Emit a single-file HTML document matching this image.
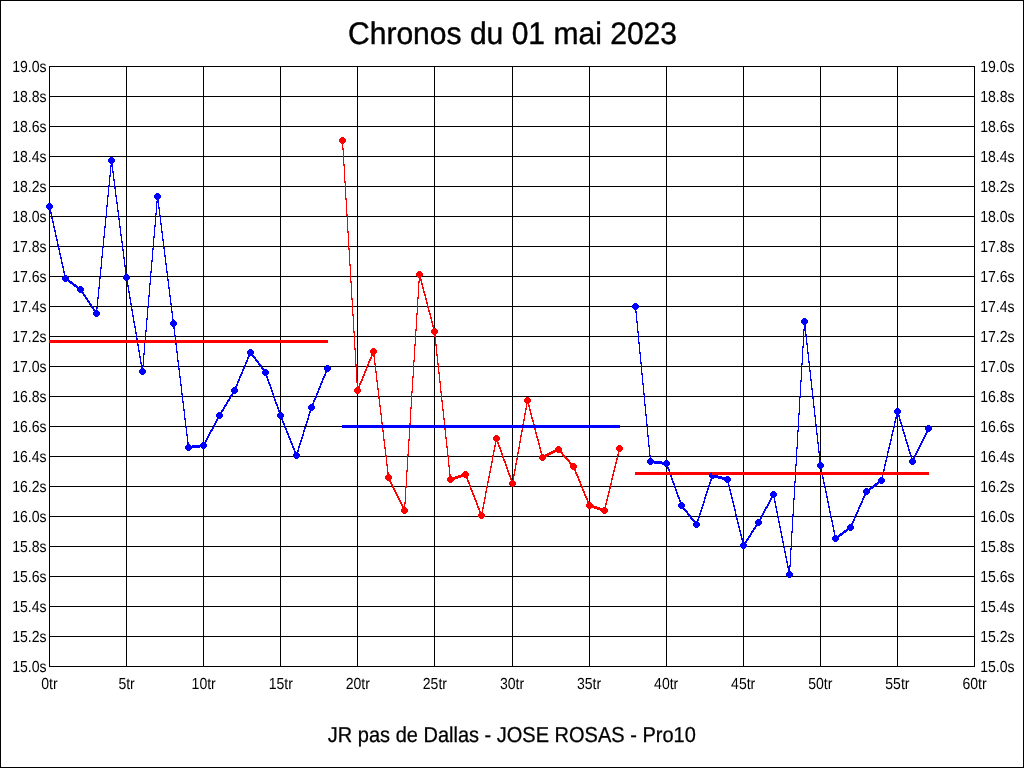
<!DOCTYPE html>
<html lang="fr"><head><meta charset="utf-8"><title>Chronos du 01 mai 2023</title>
<style>
html,body{margin:0;padding:0;background:#fff;width:1024px;height:768px;overflow:hidden}
svg{display:block;position:absolute;left:0;top:0}
text{font-family:"Liberation Sans",Arial,Helvetica,sans-serif;fill:#000;text-rendering:geometricPrecision}
</style></head><body>
<svg width="1024" height="768" viewBox="0 0 1024 768">
<rect width="1024" height="768" fill="#fff"/>
<g shape-rendering="crispEdges">
<path fill="#000" d="M0 0h1024v1h-1024zM49 66h926v1h-926zM49 67h1v29h-1zM126 67h1v29h-1zM203 67h1v29h-1zM280 67h1v29h-1zM357 67h1v29h-1zM434 67h1v29h-1zM512 67h1v29h-1zM589 67h1v29h-1zM666 67h1v29h-1zM743 67h1v29h-1zM820 67h1v29h-1zM897 67h1v29h-1zM974 67h1v29h-1zM49 96h926v1h-926zM49 97h1v29h-1zM126 97h1v29h-1zM203 97h1v29h-1zM280 97h1v29h-1zM357 97h1v29h-1zM434 97h1v29h-1zM512 97h1v29h-1zM589 97h1v29h-1zM666 97h1v29h-1zM743 97h1v29h-1zM820 97h1v29h-1zM897 97h1v29h-1zM974 97h1v29h-1zM49 126h926v1h-926zM49 127h1v29h-1zM126 127h1v29h-1zM203 127h1v29h-1zM280 127h1v29h-1zM357 127h1v29h-1zM434 127h1v29h-1zM512 127h1v29h-1zM589 127h1v29h-1zM666 127h1v29h-1zM743 127h1v29h-1zM820 127h1v29h-1zM897 127h1v29h-1zM974 127h1v29h-1zM49 156h294v1h-294zM344 156h631v1h-631zM49 157h1v29h-1zM126 157h1v29h-1zM203 157h1v29h-1zM280 157h1v29h-1zM357 157h1v29h-1zM434 157h1v29h-1zM512 157h1v29h-1zM589 157h1v29h-1zM666 157h1v29h-1zM743 157h1v29h-1zM820 157h1v29h-1zM897 157h1v29h-1zM974 157h1v29h-1zM49 186h59v1h-59zM110 186h4v1h-4zM115 186h230v1h-230zM346 186h629v1h-629zM49 187h1v16h-1zM49 210h1v6h-1zM126 187h1v29h-1zM203 187h1v29h-1zM280 187h1v29h-1zM357 187h1v29h-1zM434 187h1v29h-1zM512 187h1v29h-1zM589 187h1v29h-1zM666 187h1v29h-1zM743 187h1v29h-1zM820 187h1v29h-1zM897 187h1v29h-1zM974 187h1v29h-1zM49 216h2v1h-2zM52 216h53v1h-53zM107 216h11v1h-11zM119 216h36v1h-36zM156 216h3v1h-3zM161 216h186v1h-186zM348 216h627v1h-627zM49 217h1v29h-1zM126 217h1v29h-1zM203 217h1v29h-1zM280 217h1v29h-1zM357 217h1v29h-1zM434 217h1v29h-1zM512 217h1v29h-1zM589 217h1v29h-1zM666 217h1v29h-1zM743 217h1v29h-1zM820 217h1v29h-1zM897 217h1v29h-1zM974 217h1v29h-1zM49 246h9v1h-9zM59 246h43v1h-43zM104 246h18v1h-18zM123 246h30v1h-30zM154 246h9v1h-9zM164 246h184v1h-184zM349 246h626v1h-626zM126 247h1v26h-1zM49 247h1v29h-1zM203 247h1v29h-1zM280 247h1v29h-1zM357 247h1v29h-1zM434 247h1v29h-1zM512 247h1v29h-1zM589 247h1v29h-1zM666 247h1v29h-1zM743 247h1v29h-1zM820 247h1v29h-1zM897 247h1v29h-1zM974 247h1v29h-1zM49 276h14v1h-14zM68 276h32v1h-32zM101 276h22v1h-22zM130 276h20v1h-20zM151 276h16v1h-16zM168 276h182v1h-182zM351 276h66v1h-66zM422 276h553v1h-553zM49 277h1v29h-1zM126 281h1v25h-1zM203 277h1v29h-1zM280 277h1v29h-1zM357 277h1v29h-1zM434 277h1v29h-1zM512 277h1v29h-1zM589 277h1v29h-1zM666 277h1v29h-1zM743 277h1v29h-1zM820 277h1v29h-1zM897 277h1v29h-1zM974 277h1v29h-1zM49 306h42v1h-42zM93 306h4v1h-4zM98 306h33v1h-33zM132 306h15v1h-15zM149 306h22v1h-22zM172 306h180v1h-180zM353 306h64v1h-64zM418 306h9v1h-9zM429 306h203v1h-203zM639 306h336v1h-336zM434 307h1v21h-1zM49 307h1v29h-1zM126 307h1v29h-1zM203 307h1v29h-1zM280 307h1v29h-1zM357 307h1v29h-1zM512 307h1v29h-1zM589 307h1v29h-1zM666 307h1v29h-1zM743 307h1v29h-1zM820 307h1v29h-1zM897 307h1v29h-1zM974 307h1v29h-1zM49 336h87v1h-87zM137 336h8v1h-8zM146 336h28v1h-28zM176 336h178v1h-178zM355 336h60v1h-60zM416 336h18v1h-18zM436 336h202v1h-202zM639 336h164v1h-164zM804 336h2v1h-2zM807 336h168v1h-168zM49 337h1v3h-1zM126 337h1v3h-1zM203 337h1v3h-1zM280 337h1v3h-1zM49 343h1v23h-1zM126 343h1v23h-1zM203 343h1v23h-1zM280 343h1v23h-1zM357 337h1v29h-1zM434 337h1v29h-1zM512 337h1v29h-1zM589 337h1v29h-1zM666 337h1v29h-1zM743 337h1v29h-1zM820 337h1v29h-1zM897 337h1v29h-1zM974 337h1v29h-1zM49 366h92v1h-92zM144 366h34v1h-34zM179 366h65v1h-65zM246 366h14v1h-14zM262 366h63v1h-63zM330 366h26v1h-26zM357 366h9v1h-9zM368 366h7v1h-7zM376 366h37v1h-37zM414 366h24v1h-24zM439 366h202v1h-202zM642 366h159v1h-159zM802 366h7v1h-7zM810 366h165v1h-165zM357 367h1v14h-1zM49 367h1v29h-1zM126 367h1v29h-1zM203 367h1v29h-1zM280 367h1v29h-1zM357 394h1v2h-1zM434 367h1v29h-1zM512 367h1v29h-1zM589 367h1v29h-1zM666 367h1v29h-1zM743 367h1v29h-1zM820 367h1v29h-1zM897 367h1v29h-1zM974 367h1v29h-1zM49 396h133v1h-133zM183 396h47v1h-47zM232 396h41v1h-41zM275 396h40v1h-40zM317 396h61v1h-61zM379 396h32v1h-32zM412 396h29v1h-29zM442 396h202v1h-202zM645 396h154v1h-154zM801 396h11v1h-11zM813 396h162v1h-162zM897 397h1v11h-1zM280 397h1v15h-1zM357 397h1v28h-1zM434 397h1v28h-1zM512 397h1v28h-1zM589 397h1v28h-1zM49 397h1v29h-1zM126 397h1v29h-1zM203 397h1v29h-1zM280 419h1v7h-1zM666 397h1v29h-1zM743 397h1v29h-1zM820 397h1v29h-1zM897 415h1v11h-1zM974 397h1v29h-1zM49 426h136v1h-136zM187 426h26v1h-26zM215 426h69v1h-69zM286 426h19v1h-19zM306 426h36v1h-36zM620 426h27v1h-27zM648 426h150v1h-150zM799 426h17v1h-17zM817 426h76v1h-76zM895 426h6v1h-6zM903 426h23v1h-23zM931 426h44v1h-44zM203 427h1v15h-1zM49 427h1v29h-1zM126 427h1v29h-1zM203 449h1v7h-1zM280 427h1v29h-1zM357 428h1v28h-1zM434 428h1v28h-1zM512 428h1v28h-1zM589 428h1v28h-1zM666 427h1v29h-1zM743 427h1v29h-1zM820 427h1v29h-1zM897 427h1v29h-1zM974 427h1v29h-1zM49 456h244v1h-244zM300 456h85v1h-85zM387 456h20v1h-20zM408 456h39v1h-39zM449 456h43v1h-43zM494 456h8v1h-8zM504 456h13v1h-13zM518 456h21v1h-21zM547 456h16v1h-16zM566 456h51v1h-51zM618 456h31v1h-31zM651 456h145v1h-145zM797 456h22v1h-22zM820 456h66v1h-66zM888 456h22v1h-22zM912 456h2v1h-2zM916 456h59v1h-59zM666 457h1v3h-1zM820 457h1v3h-1zM666 467h1v5h-1zM743 457h1v15h-1zM820 469h1v3h-1zM897 457h1v15h-1zM512 457h1v23h-1zM49 457h1v29h-1zM126 457h1v29h-1zM203 457h1v29h-1zM280 457h1v29h-1zM357 457h1v29h-1zM434 457h1v29h-1zM589 457h1v29h-1zM666 475h1v11h-1zM743 475h1v11h-1zM820 475h1v11h-1zM897 475h1v11h-1zM974 457h1v29h-1zM49 486h343v1h-343zM394 486h11v1h-11zM407 486h62v1h-62zM471 486h15v1h-15zM488 486h23v1h-23zM514 486h67v1h-67zM583 486h27v1h-27zM611 486h63v1h-63zM676 486h32v1h-32zM710 486h18v1h-18zM730 486h64v1h-64zM795 486h29v1h-29zM826 486h45v1h-45zM875 486h100v1h-100zM589 487h1v15h-1zM49 487h1v29h-1zM126 487h1v29h-1zM203 487h1v29h-1zM280 487h1v29h-1zM357 487h1v29h-1zM434 487h1v29h-1zM512 487h1v29h-1zM589 509h1v7h-1zM666 487h1v29h-1zM743 487h1v29h-1zM820 487h1v29h-1zM897 487h1v29h-1zM974 487h1v29h-1zM49 516h429v1h-429zM485 516h204v1h-204zM691 516h7v1h-7zM700 516h36v1h-36zM737 516h24v1h-24zM763 516h14v1h-14zM779 516h13v1h-13zM793 516h37v1h-37zM832 516h22v1h-22zM856 516h119v1h-119zM743 517h1v25h-1zM49 517h1v29h-1zM126 517h1v29h-1zM203 517h1v29h-1zM280 517h1v29h-1zM357 517h1v29h-1zM434 517h1v29h-1zM512 517h1v29h-1zM589 517h1v29h-1zM666 517h1v29h-1zM820 517h1v29h-1zM897 517h1v29h-1zM974 517h1v29h-1zM49 546h691v1h-691zM747 546h36v1h-36zM785 546h6v1h-6zM792 546h183v1h-183zM49 547h1v29h-1zM126 547h1v29h-1zM203 547h1v29h-1zM280 547h1v29h-1zM357 547h1v29h-1zM434 547h1v29h-1zM512 547h1v29h-1zM589 547h1v29h-1zM666 547h1v29h-1zM743 549h1v27h-1zM820 547h1v29h-1zM897 547h1v29h-1zM974 547h1v29h-1zM49 576h738v1h-738zM792 576h183v1h-183zM49 577h1v29h-1zM126 577h1v29h-1zM203 577h1v29h-1zM280 577h1v29h-1zM357 577h1v29h-1zM434 577h1v29h-1zM512 577h1v29h-1zM589 577h1v29h-1zM666 577h1v29h-1zM743 577h1v29h-1zM820 577h1v29h-1zM897 577h1v29h-1zM974 577h1v29h-1zM49 606h926v1h-926zM49 607h1v29h-1zM126 607h1v29h-1zM203 607h1v29h-1zM280 607h1v29h-1zM357 607h1v29h-1zM434 607h1v29h-1zM512 607h1v29h-1zM589 607h1v29h-1zM666 607h1v29h-1zM743 607h1v29h-1zM820 607h1v29h-1zM897 607h1v29h-1zM974 607h1v29h-1zM49 636h926v1h-926zM49 637h1v29h-1zM126 637h1v29h-1zM203 637h1v29h-1zM280 637h1v29h-1zM357 637h1v29h-1zM434 637h1v29h-1zM512 637h1v29h-1zM589 637h1v29h-1zM666 637h1v29h-1zM743 637h1v29h-1zM820 637h1v29h-1zM897 637h1v29h-1zM974 637h1v29h-1zM49 666h926v1h-926zM0 1h1v766h-1zM1023 1h1v766h-1zM0 767h1024v1h-1024z"/>
<path fill="#00f" d="M110 157h3v1h-3zM109 158h5v1h-5zM108 159h7v3h-7zM109 162h5v1h-5zM110 163h3v1h-3zM111 164h2v1h-2zM110 165h3v2h-3zM112 167h1v4h-1zM112 171h2v2h-2zM110 167h1v8h-1zM109 175h2v2h-2zM113 173h1v6h-1zM113 179h2v2h-2zM109 177h1v8h-1zM108 185h2v2h-2zM114 181h1v6h-1zM114 187h2v2h-2zM156 193h3v1h-3zM108 187h1v8h-1zM115 189h1v6h-1zM155 194h5v1h-5zM107 195h2v2h-2zM115 195h2v2h-2zM154 195h7v3h-7zM155 198h5v1h-5zM156 199h3v1h-3zM157 200h2v1h-2zM116 197h1v5h-1zM156 201h3v2h-3zM48 203h3v1h-3zM116 202h2v2h-2zM47 204h5v1h-5zM107 197h1v8h-1zM106 205h2v2h-2zM158 203h1v4h-1zM46 205h7v3h-7zM47 208h5v1h-5zM158 207h2v2h-2zM48 209h3v1h-3zM117 204h1v6h-1zM50 210h1v2h-1zM117 210h2v2h-2zM156 203h1v10h-1zM50 212h2v2h-2zM155 213h2v2h-2zM159 209h1v6h-1zM106 207h1v9h-1zM51 214h1v3h-1zM159 215h2v2h-2zM105 216h2v2h-2zM118 212h1v6h-1zM51 217h2v2h-2zM118 218h2v2h-2zM52 219h1v2h-1zM52 221h2v2h-2zM160 217h1v6h-1zM155 215h1v10h-1zM160 223h2v2h-2zM53 223h1v3h-1zM105 218h1v8h-1zM119 220h1v6h-1zM154 225h2v2h-2zM53 226h2v2h-2zM104 226h2v2h-2zM119 226h2v2h-2zM54 228h1v2h-1zM161 225h1v6h-1zM54 230h2v2h-2zM161 231h2v2h-2zM120 228h1v6h-1zM55 232h1v3h-1zM104 228h1v8h-1zM120 234h2v2h-2zM154 227h1v9h-1zM55 235h2v2h-2zM103 236h2v2h-2zM153 236h2v2h-2zM56 237h1v2h-1zM162 233h1v6h-1zM56 239h2v2h-2zM121 236h1v5h-1zM162 239h2v2h-2zM121 241h2v2h-2zM57 241h1v3h-1zM57 244h2v2h-2zM103 238h1v8h-1zM163 241h1v6h-1zM58 246h1v2h-1zM102 246h2v2h-2zM153 238h1v10h-1zM122 243h1v6h-1zM163 247h2v2h-2zM58 248h2v2h-2zM152 248h2v2h-2zM122 249h2v2h-2zM59 250h1v3h-1zM59 253h2v2h-2zM164 249h1v6h-1zM102 248h1v8h-1zM60 255h1v2h-1zM123 251h1v6h-1zM164 255h2v2h-2zM101 256h2v2h-2zM60 257h2v2h-2zM123 257h2v2h-2zM152 250h1v10h-1zM61 259h1v3h-1zM151 260h2v2h-2zM165 257h1v6h-1zM61 262h2v2h-2zM124 259h1v6h-1zM165 263h2v2h-2zM62 264h1v2h-1zM101 258h1v9h-1zM124 265h2v2h-2zM62 266h2v2h-2zM100 267h2v2h-2zM63 268h1v3h-1zM151 262h1v9h-1zM166 265h1v6h-1zM63 271h2v2h-2zM125 267h1v6h-1zM150 271h2v2h-2zM166 271h2v2h-2zM125 273h2v1h-2zM64 273h1v2h-1zM125 274h3v1h-3zM64 275h3v1h-3zM124 275h5v1h-5zM63 276h5v1h-5zM100 269h1v8h-1zM99 277h2v2h-2zM123 276h7v3h-7zM167 273h1v6h-1zM62 277h7v3h-7zM124 279h5v1h-5zM63 280h7v1h-7zM125 280h3v1h-3zM167 279h2v2h-2zM64 281h3v1h-3zM68 281h4v1h-4zM69 282h4v1h-4zM150 273h1v10h-1zM70 283h4v1h-4zM72 284h4v1h-4zM127 281h1v4h-1zM149 283h2v2h-2zM73 285h4v1h-4zM74 286h4v1h-4zM79 286h3v1h-3zM99 279h1v8h-1zM127 285h2v2h-2zM168 281h1v6h-1zM76 287h7v1h-7zM98 287h2v2h-2zM168 287h2v2h-2zM77 288h7v3h-7zM128 287h1v4h-1zM78 291h5v1h-5zM79 292h5v1h-5zM128 291h2v2h-2zM82 293h2v1h-2zM83 294h2v1h-2zM149 285h1v10h-1zM169 289h1v6h-1zM83 295h3v1h-3zM84 296h2v1h-2zM98 289h1v8h-1zM129 293h1v4h-1zM148 295h2v2h-2zM169 295h2v2h-2zM85 297h2v1h-2zM85 298h3v1h-3zM97 297h2v2h-2zM129 297h2v2h-2zM86 299h2v1h-2zM87 300h2v1h-2zM87 301h3v1h-3zM88 302h2v1h-2zM130 299h1v4h-1zM170 297h1v6h-1zM89 303h2v1h-2zM634 303h3v1h-3zM89 304h3v1h-3zM130 303h2v2h-2zM170 303h2v2h-2zM633 304h5v1h-5zM90 305h2v1h-2zM148 297h1v9h-1zM91 306h2v1h-2zM97 299h1v8h-1zM91 307h3v1h-3zM147 306h2v2h-2zM632 305h7v3h-7zM92 308h2v1h-2zM96 307h2v2h-2zM131 305h1v4h-1zM633 308h5v1h-5zM93 309h2v1h-2zM96 309h1v1h-1zM634 309h3v1h-3zM93 310h5v1h-5zM131 309h2v2h-2zM171 305h1v6h-1zM635 310h1v1h-1zM94 311h5v1h-5zM171 311h2v2h-2zM635 311h2v2h-2zM93 312h7v3h-7zM132 311h1v4h-1zM94 315h5v1h-5zM95 316h3v1h-3zM132 315h2v2h-2zM147 308h1v10h-1zM172 313h1v6h-1zM803 318h3v1h-3zM146 318h2v2h-2zM172 319h2v1h-2zM802 319h5v1h-5zM133 317h1v4h-1zM172 320h3v1h-3zM636 313h1v8h-1zM171 321h5v1h-5zM133 321h2v2h-2zM636 321h2v2h-2zM801 320h7v3h-7zM802 323h5v1h-5zM170 322h7v3h-7zM803 324h3v1h-3zM134 323h1v3h-1zM171 325h5v1h-5zM172 326h3v1h-3zM134 326h2v2h-2zM173 327h2v2h-2zM804 325h2v4h-2zM146 320h1v10h-1zM637 323h1v8h-1zM803 329h3v2h-3zM135 328h1v4h-1zM145 330h2v2h-2zM637 331h2v2h-2zM135 332h2v2h-2zM805 331h1v3h-1zM174 329h1v6h-1zM805 334h2v2h-2zM174 335h2v2h-2zM136 334h1v4h-1zM136 338h2v2h-2zM145 332h1v8h-1zM175 337h1v3h-1zM638 333h1v9h-1zM806 336h1v7h-1zM137 343h1v1h-1zM638 342h2v2h-2zM175 343h2v2h-2zM806 343h2v2h-2zM137 344h2v2h-2zM803 331h1v15h-1zM802 346h2v2h-2zM138 346h1v4h-1zM249 349h3v1h-3zM176 345h1v6h-1zM248 350h5v1h-5zM138 350h2v2h-2zM639 344h1v8h-1zM807 345h1v7h-1zM144 343h1v10h-1zM176 351h2v2h-2zM247 351h7v3h-7zM639 352h2v2h-2zM807 352h2v2h-2zM143 353h2v2h-2zM248 354h5v1h-5zM139 352h1v4h-1zM248 355h6v1h-6zM248 356h2v1h-2zM252 356h3v1h-3zM139 356h2v2h-2zM253 357h3v1h-3zM247 357h2v2h-2zM254 358h2v1h-2zM177 353h1v7h-1zM247 359h1v1h-1zM255 359h2v1h-2zM255 360h3v1h-3zM808 354h1v7h-1zM140 358h1v4h-1zM177 360h2v2h-2zM246 360h2v2h-2zM256 361h3v1h-3zM640 354h1v8h-1zM257 362h2v1h-2zM802 348h1v15h-1zM808 361h2v2h-2zM140 362h2v2h-2zM245 362h2v2h-2zM258 363h2v1h-2zM640 362h2v2h-2zM141 364h1v1h-1zM143 355h1v10h-1zM245 364h1v1h-1zM258 364h3v1h-3zM801 363h2v2h-2zM259 365h3v1h-3zM326 365h3v1h-3zM141 365h3v2h-3zM244 365h2v2h-2zM260 366h2v1h-2zM325 366h5v1h-5zM141 367h2v1h-2zM178 362h1v6h-1zM261 367h2v1h-2zM141 368h3v1h-3zM243 367h2v2h-2zM261 368h3v1h-3zM140 369h5v1h-5zM178 368h2v2h-2zM262 369h5v1h-5zM324 367h7v3h-7zM809 363h1v7h-1zM242 369h2v2h-2zM263 370h5v1h-5zM325 370h5v1h-5zM242 371h1v1h-1zM325 371h4v1h-4zM809 370h2v2h-2zM139 370h7v3h-7zM325 372h2v1h-2zM641 364h1v9h-1zM140 373h5v1h-5zM241 372h2v2h-2zM262 371h7v3h-7zM325 373h1v1h-1zM141 374h3v1h-3zM263 374h5v1h-5zM641 373h2v2h-2zM179 370h1v6h-1zM240 374h2v2h-2zM264 375h3v1h-3zM324 374h2v2h-2zM179 376h2v2h-2zM239 376h2v2h-2zM266 376h2v2h-2zM323 376h2v2h-2zM239 378h1v1h-1zM267 378h1v1h-1zM810 372h1v7h-1zM322 378h2v2h-2zM801 365h1v15h-1zM238 379h2v2h-2zM267 379h2v2h-2zM322 380h1v1h-1zM810 379h2v2h-2zM268 381h1v1h-1zM800 380h2v2h-2zM237 381h2v2h-2zM321 381h2v2h-2zM642 375h1v8h-1zM180 378h1v6h-1zM237 383h1v1h-1zM268 382h2v2h-2zM320 383h2v2h-2zM642 383h2v2h-2zM180 384h2v2h-2zM236 384h2v2h-2zM269 384h2v2h-2zM320 385h1v1h-1zM235 386h2v1h-2zM270 386h1v1h-1zM233 387h4v1h-4zM319 386h2v2h-2zM811 381h1v7h-1zM232 388h5v1h-5zM270 387h2v2h-2zM271 389h1v1h-1zM318 388h2v2h-2zM811 388h2v2h-2zM318 390h1v1h-1zM231 389h7v3h-7zM271 390h2v2h-2zM181 386h1v7h-1zM232 392h5v1h-5zM272 392h1v1h-1zM317 391h2v2h-2zM643 385h1v8h-1zM232 393h4v1h-4zM181 393h2v2h-2zM231 394h2v1h-2zM272 393h2v2h-2zM316 393h2v2h-2zM643 393h2v2h-2zM230 395h3v1h-3zM273 395h1v1h-1zM316 395h1v1h-1zM800 382h1v14h-1zM230 396h2v1h-2zM812 390h1v7h-1zM273 396h2v2h-2zM315 396h2v2h-2zM799 396h2v2h-2zM229 397h2v2h-2zM274 398h1v1h-1zM812 397h2v2h-2zM228 399h2v1h-2zM314 398h2v2h-2zM182 395h1v6h-1zM227 400h3v1h-3zM274 399h2v2h-2zM227 401h2v1h-2zM275 401h1v1h-1zM313 400h2v2h-2zM182 401h2v2h-2zM313 402h1v1h-1zM226 402h2v2h-2zM275 402h2v2h-2zM312 403h2v1h-2zM644 395h1v9h-1zM225 404h2v1h-2zM310 404h4v1h-4zM224 405h3v1h-3zM276 404h2v2h-2zM309 405h5v1h-5zM644 404h2v2h-2zM813 399h1v7h-1zM224 406h2v1h-2zM277 406h1v1h-1zM813 406h2v2h-2zM183 403h1v6h-1zM223 407h2v2h-2zM277 407h2v2h-2zM308 406h7v3h-7zM896 408h3v1h-3zM222 409h2v1h-2zM278 409h1v1h-1zM309 409h5v1h-5zM895 409h5v1h-5zM183 409h2v2h-2zM221 410h3v1h-3zM310 410h3v1h-3zM221 411h2v1h-2zM278 410h2v2h-2zM218 412h4v1h-4zM279 412h3v1h-3zM309 411h2v2h-2zM799 398h1v15h-1zM894 410h7v3h-7zM217 413h5v1h-5zM278 413h5v1h-5zM309 413h1v1h-1zM645 406h1v8h-1zM895 413h5v1h-5zM798 413h2v2h-2zM814 408h1v7h-1zM896 414h3v1h-3zM308 414h2v2h-2zM645 414h2v2h-2zM216 414h7v3h-7zM277 414h7v3h-7zM814 415h2v2h-2zM896 415h1v2h-1zM898 415h2v2h-2zM184 411h1v7h-1zM217 417h5v1h-5zM278 417h5v1h-5zM308 416h1v2h-1zM217 418h4v1h-4zM279 418h4v1h-4zM895 417h2v2h-2zM899 417h1v2h-1zM184 418h2v2h-2zM281 419h2v1h-2zM307 418h2v2h-2zM216 419h2v2h-2zM282 420h1v1h-1zM307 420h1v1h-1zM895 419h1v2h-1zM899 419h2v2h-2zM900 421h1v1h-1zM215 421h2v2h-2zM282 421h2v2h-2zM306 421h2v2h-2zM894 421h2v2h-2zM306 423h1v1h-1zM646 416h1v8h-1zM815 417h1v7h-1zM900 422h2v2h-2zM214 423h2v2h-2zM283 423h2v2h-2zM901 424h1v1h-1zM185 420h1v6h-1zM284 425h1v1h-1zM305 424h2v2h-2zM646 424h2v2h-2zM815 424h2v2h-2zM894 423h1v3h-1zM927 425h3v1h-3zM213 425h2v2h-2zM305 426h1v1h-1zM901 425h2v2h-2zM926 426h5v1h-5zM185 426h2v2h-2zM284 426h2v2h-2zM342 425h278v3h-278zM893 426h2v2h-2zM212 427h2v2h-2zM304 427h2v2h-2zM902 427h1v2h-1zM211 429h2v1h-2zM285 428h2v2h-2zM304 429h1v1h-1zM798 415h1v15h-1zM893 428h1v2h-1zM925 427h7v3h-7zM210 430h3v1h-3zM286 430h1v1h-1zM902 429h2v2h-2zM926 430h5v1h-5zM210 431h2v1h-2zM303 430h2v2h-2zM797 430h2v2h-2zM892 430h2v2h-2zM903 431h1v1h-1zM926 431h4v1h-4zM286 431h2v2h-2zM816 426h1v7h-1zM926 432h2v1h-2zM186 428h1v6h-1zM209 432h2v2h-2zM303 432h1v2h-1zM892 432h1v2h-1zM903 432h2v2h-2zM287 433h2v2h-2zM647 426h1v9h-1zM816 433h2v2h-2zM904 434h1v1h-1zM925 433h2v2h-2zM186 434h2v2h-2zM208 434h2v2h-2zM288 435h1v1h-1zM302 434h2v2h-2zM891 434h2v2h-2zM302 436h1v1h-1zM647 435h2v2h-2zM904 435h2v2h-2zM924 435h2v2h-2zM207 436h2v2h-2zM288 436h2v2h-2zM301 437h2v2h-2zM891 436h1v3h-1zM905 437h1v2h-1zM923 437h2v2h-2zM206 438h2v2h-2zM289 438h2v2h-2zM301 439h1v1h-1zM290 440h1v1h-1zM890 439h2v2h-2zM905 439h2v2h-2zM922 439h2v2h-2zM187 436h1v6h-1zM205 440h2v2h-2zM300 440h2v2h-2zM817 435h1v7h-1zM906 441h1v1h-1zM202 442h4v1h-4zM290 441h2v2h-2zM300 442h1v1h-1zM890 441h1v2h-1zM921 441h2v2h-2zM187 442h2v2h-2zM201 443h5v1h-5zM817 442h2v2h-2zM906 442h2v2h-2zM187 444h3v1h-3zM200 444h7v1h-7zM291 443h2v2h-2zM299 443h2v2h-2zM648 437h1v8h-1zM889 443h2v2h-2zM907 444h1v1h-1zM920 443h2v2h-2zM186 445h5v1h-5zM192 445h15v1h-15zM292 445h1v1h-1zM299 445h1v1h-1zM185 446h22v1h-22zM648 445h2v2h-2zM797 432h1v15h-1zM889 445h1v2h-1zM907 445h2v2h-2zM919 445h2v2h-2zM185 447h15v1h-15zM201 447h5v1h-5zM292 446h2v2h-2zM298 446h2v2h-2zM185 448h7v1h-7zM202 448h3v1h-3zM796 447h2v2h-2zM888 447h2v2h-2zM908 447h1v2h-1zM918 447h2v2h-2zM186 449h5v1h-5zM293 448h2v2h-2zM298 448h1v2h-1zM187 450h3v1h-3zM294 450h1v1h-1zM818 444h1v7h-1zM888 449h1v2h-1zM908 449h2v2h-2zM917 449h2v2h-2zM294 451h2v1h-2zM297 450h2v2h-2zM909 451h1v1h-1zM294 452h4v1h-4zM818 451h2v2h-2zM887 451h2v2h-2zM916 451h2v2h-2zM294 453h5v1h-5zM909 452h2v2h-2zM649 447h1v8h-1zM910 454h1v1h-1zM915 453h2v2h-2zM887 453h1v3h-1zM293 454h7v3h-7zM649 455h2v2h-2zM910 455h2v2h-2zM914 455h2v2h-2zM294 457h5v1h-5zM650 457h1v1h-1zM886 456h2v2h-2zM911 457h1v1h-1zM913 457h2v1h-2zM295 458h3v1h-3zM649 458h3v1h-3zM911 458h4v1h-4zM648 459h5v1h-5zM819 453h1v7h-1zM886 458h1v2h-1zM910 459h5v1h-5zM647 460h7v1h-7zM665 460h3v1h-3zM647 461h15v1h-15zM664 461h5v1h-5zM819 460h2v2h-2zM885 460h2v2h-2zM647 462h23v1h-23zM819 462h3v1h-3zM909 460h7v3h-7zM648 463h5v1h-5zM654 463h16v1h-16zM796 449h1v15h-1zM818 463h5v1h-5zM885 462h1v2h-1zM910 463h5v1h-5zM649 464h3v1h-3zM662 464h8v1h-8zM911 464h3v1h-3zM664 465h5v1h-5zM795 464h2v2h-2zM884 464h2v2h-2zM665 466h3v1h-3zM817 464h7v3h-7zM818 467h5v1h-5zM667 467h2v2h-2zM819 468h3v1h-3zM884 466h1v3h-1zM668 469h2v2h-2zM883 469h2v2h-2zM669 471h1v1h-1zM795 466h1v6h-1zM821 469h1v3h-1zM883 471h1v1h-1zM711 472h1v1h-1zM710 473h2v1h-2zM709 474h3v1h-3zM709 475h9v1h-9zM670 475h2v2h-2zM709 476h13v1h-13zM726 476h3v1h-3zM822 475h1v2h-1zM882 475h1v2h-1zM671 477h1v1h-1zM710 477h20v1h-20zM880 477h3v1h-3zM711 478h3v1h-3zM718 478h13v1h-13zM822 477h2v2h-2zM879 478h5v1h-5zM671 478h2v2h-2zM722 479h9v1h-9zM672 480h1v1h-1zM710 479h2v2h-2zM724 480h7v1h-7zM795 475h1v6h-1zM710 481h1v1h-1zM725 481h5v1h-5zM823 479h1v3h-1zM878 479h7v3h-7zM672 481h2v2h-2zM726 482h3v1h-3zM794 481h2v2h-2zM877 482h7v1h-7zM709 482h2v2h-2zM823 482h2v2h-2zM875 483h4v1h-4zM880 483h3v1h-3zM673 483h2v2h-2zM709 484h1v1h-1zM728 483h1v2h-1zM874 484h4v1h-4zM674 485h1v1h-1zM824 484h1v2h-1zM873 485h4v1h-4zM708 485h2v2h-2zM728 485h2v2h-2zM871 486h4v1h-4zM674 486h2v2h-2zM708 487h1v1h-1zM824 486h2v2h-2zM870 487h4v1h-4zM675 488h1v1h-1zM729 487h1v2h-1zM865 488h3v1h-3zM869 488h4v1h-4zM707 488h2v2h-2zM864 489h7v1h-7zM675 489h2v2h-2zM707 490h1v1h-1zM729 489h2v2h-2zM825 488h1v3h-1zM676 491h1v1h-1zM772 491h3v1h-3zM706 491h2v2h-2zM730 491h1v2h-1zM771 492h5v1h-5zM825 491h2v2h-2zM863 490h7v3h-7zM676 492h2v2h-2zM706 493h1v1h-1zM864 493h5v1h-5zM677 494h1v1h-1zM730 493h2v2h-2zM864 494h4v1h-4zM705 494h2v2h-2zM770 493h7v3h-7zM826 493h1v3h-1zM864 495h2v1h-2zM677 495h2v2h-2zM705 496h1v1h-1zM731 495h1v2h-1zM771 496h5v1h-5zM771 497h4v1h-4zM794 483h1v15h-1zM826 496h2v2h-2zM863 496h2v2h-2zM678 497h2v2h-2zM704 497h2v2h-2zM731 497h2v2h-2zM679 499h1v1h-1zM770 498h2v2h-2zM793 498h2v2h-2zM862 498h2v2h-2zM704 499h1v2h-1zM732 499h1v2h-1zM774 498h1v3h-1zM827 498h1v3h-1zM862 500h1v1h-1zM679 500h2v2h-2zM769 500h2v2h-2zM680 502h3v1h-3zM703 501h2v2h-2zM732 501h2v2h-2zM774 501h2v2h-2zM827 501h2v2h-2zM861 501h2v2h-2zM679 503h5v1h-5zM703 503h1v1h-1zM768 502h2v2h-2zM733 503h1v2h-1zM860 503h2v2h-2zM702 504h2v2h-2zM767 504h2v2h-2zM775 503h1v3h-1zM828 503h1v3h-1zM678 504h7v3h-7zM702 506h1v1h-1zM733 505h2v2h-2zM766 506h2v1h-2zM859 505h2v2h-2zM679 507h5v1h-5zM765 507h3v1h-3zM775 506h2v2h-2zM828 506h2v2h-2zM680 508h5v1h-5zM701 507h2v2h-2zM734 507h1v2h-1zM765 508h2v1h-2zM858 507h2v2h-2zM683 509h3v1h-3zM701 509h1v1h-1zM858 509h1v1h-1zM684 510h3v1h-3zM734 509h2v2h-2zM764 509h2v2h-2zM776 508h1v3h-1zM829 508h1v3h-1zM685 511h3v1h-3zM700 510h2v2h-2zM857 510h2v2h-2zM686 512h2v1h-2zM700 512h1v1h-1zM763 511h2v2h-2zM776 511h2v2h-2zM829 511h2v2h-2zM687 513h2v1h-2zM735 511h1v3h-1zM793 500h1v14h-1zM856 512h2v2h-2zM687 514h3v1h-3zM699 513h2v2h-2zM762 513h2v2h-2zM688 515h3v1h-3zM699 515h1v1h-1zM735 514h2v2h-2zM777 513h1v3h-1zM792 514h2v2h-2zM830 513h1v3h-1zM855 514h2v2h-2zM689 516h2v1h-2zM761 515h2v2h-2zM690 517h2v1h-2zM698 516h2v2h-2zM736 516h1v2h-1zM777 516h2v2h-2zM830 516h2v2h-2zM854 516h2v2h-2zM690 518h3v1h-3zM698 518h1v1h-1zM760 517h2v2h-2zM854 518h1v1h-1zM691 519h3v1h-3zM736 518h2v2h-2zM757 519h4v1h-4zM831 518h1v2h-1zM692 520h3v1h-3zM697 519h2v2h-2zM756 520h5v1h-5zM778 518h1v3h-1zM853 519h2v2h-2zM693 521h5v1h-5zM737 520h1v2h-1zM831 520h2v2h-2zM694 522h5v1h-5zM778 521h2v2h-2zM852 521h2v2h-2zM737 522h2v2h-2zM755 521h7v3h-7zM851 523h2v1h-2zM756 524h5v1h-5zM832 522h1v3h-1zM849 524h4v1h-4zM693 523h7v3h-7zM738 524h1v2h-1zM755 525h5v1h-5zM779 523h1v3h-1zM848 525h5v1h-5zM694 526h5v1h-5zM755 526h2v1h-2zM832 525h2v2h-2zM695 527h3v1h-3zM738 526h2v2h-2zM754 527h2v1h-2zM779 526h2v2h-2zM753 528h3v1h-3zM847 526h7v3h-7zM739 528h1v2h-1zM753 529h2v1h-2zM833 527h1v3h-1zM846 529h7v1h-7zM752 530h2v1h-2zM780 528h1v3h-1zM792 516h1v15h-1zM844 530h4v1h-4zM849 530h3v1h-3zM739 530h2v2h-2zM751 531h3v1h-3zM833 530h2v2h-2zM843 531h4v1h-4zM751 532h2v1h-2zM780 531h2v2h-2zM791 531h2v2h-2zM842 532h4v1h-4zM740 532h1v2h-1zM840 533h4v1h-4zM750 533h2v2h-2zM834 532h1v3h-1zM839 534h4v1h-4zM740 534h2v2h-2zM749 535h2v1h-2zM781 533h1v3h-1zM834 535h3v1h-3zM838 535h4v1h-4zM748 536h3v1h-3zM833 536h7v1h-7zM741 536h1v2h-1zM748 537h2v1h-2zM781 536h2v2h-2zM747 538h2v1h-2zM741 538h2v2h-2zM746 539h3v1h-3zM832 537h7v3h-7zM746 540h2v1h-2zM782 538h1v3h-1zM833 540h5v1h-5zM742 540h1v2h-1zM745 541h2v1h-2zM834 541h3v1h-3zM742 542h5v1h-5zM782 541h2v2h-2zM741 543h5v1h-5zM783 543h1v3h-1zM740 544h7v3h-7zM741 547h5v1h-5zM783 546h2v2h-2zM791 533h1v15h-1zM742 548h3v1h-3zM790 548h2v2h-2zM784 548h1v3h-1zM784 551h2v2h-2zM785 553h1v3h-1zM785 556h2v2h-2zM786 558h1v3h-1zM786 561h2v2h-2zM790 550h1v15h-1zM787 563h1v3h-1zM789 565h2v1h-2zM787 566h4v1h-4zM787 567h3v1h-3zM788 568h2v3h-2zM788 571h3v1h-3zM787 572h5v1h-5zM786 573h7v3h-7zM787 576h5v1h-5zM788 577h3v1h-3z"/>
<path fill="#f00" d="M341 137h3v1h-3zM340 138h5v1h-5zM339 139h7v3h-7zM340 142h5v1h-5zM341 143h3v1h-3zM342 144h1v4h-1zM342 148h2v2h-2zM343 150h1v14h-1zM343 164h2v2h-2zM344 166h1v15h-1zM344 181h2v2h-2zM345 183h1v15h-1zM345 198h2v2h-2zM346 200h1v14h-1zM346 214h2v2h-2zM347 216h1v15h-1zM347 231h2v2h-2zM348 233h1v15h-1zM348 248h2v2h-2zM349 250h1v14h-1zM349 264h2v2h-2zM418 271h3v1h-3zM417 272h5v1h-5zM416 273h7v3h-7zM417 276h5v1h-5zM418 277h3v1h-3zM419 278h2v1h-2zM350 266h1v15h-1zM419 279h3v2h-3zM350 281h2v2h-2zM418 281h2v2h-2zM421 281h1v2h-1zM421 283h2v2h-2zM422 285h1v2h-1zM422 287h2v2h-2zM423 289h1v2h-1zM423 291h2v2h-2zM424 293h1v1h-1zM424 294h2v2h-2zM418 283h1v14h-1zM351 283h1v15h-1zM425 296h1v2h-1zM417 297h2v2h-2zM351 298h2v2h-2zM425 298h2v2h-2zM426 300h1v2h-1zM426 302h2v2h-2zM427 304h1v2h-1zM427 306h2v2h-2zM428 308h1v2h-1zM428 310h2v2h-2zM417 299h1v14h-1zM429 312h1v1h-1zM352 300h1v14h-1zM416 313h2v2h-2zM429 313h2v2h-2zM352 314h2v2h-2zM430 315h1v2h-1zM430 317h2v2h-2zM431 319h1v2h-1zM431 321h2v2h-2zM432 323h1v2h-1zM432 325h2v2h-2zM433 327h1v1h-1zM416 315h1v14h-1zM433 328h3v1h-3zM432 329h5v1h-5zM353 316h1v15h-1zM415 329h2v2h-2zM353 331h2v2h-2zM431 330h7v3h-7zM432 333h5v1h-5zM433 334h3v1h-3zM434 335h2v2h-2zM49 340h279v3h-279zM415 331h1v13h-1zM435 337h1v7h-1zM414 344h2v2h-2zM435 344h2v2h-2zM354 333h1v15h-1zM372 348h3v1h-3zM354 348h2v2h-2zM371 349h5v1h-5zM370 350h7v3h-7zM371 353h5v1h-5zM436 346h1v8h-1zM371 354h4v2h-4zM436 354h2v2h-2zM371 356h1v1h-1zM373 356h2v1h-2zM370 357h2v2h-2zM414 346h1v14h-1zM369 359h2v2h-2zM413 360h2v2h-2zM368 361h2v2h-2zM374 357h1v6h-1zM437 356h1v7h-1zM355 350h1v14h-1zM368 363h1v1h-1zM374 363h2v2h-2zM437 363h2v2h-2zM355 364h2v2h-2zM367 364h2v2h-2zM366 366h2v2h-2zM366 368h1v1h-1zM365 369h2v2h-2zM375 365h1v6h-1zM438 365h1v7h-1zM364 371h2v2h-2zM375 371h2v2h-2zM364 373h1v1h-1zM438 372h2v2h-2zM363 374h2v2h-2zM413 362h1v14h-1zM362 376h2v2h-2zM412 376h2v2h-2zM362 378h1v1h-1zM376 373h1v7h-1zM356 366h1v15h-1zM361 379h2v2h-2zM439 374h1v7h-1zM376 380h2v2h-2zM356 381h2v2h-2zM360 381h2v2h-2zM439 381h2v2h-2zM359 383h2v2h-2zM357 383h1v3h-1zM359 385h1v1h-1zM357 386h3v1h-3zM356 387h4v1h-4zM377 382h1v6h-1zM355 388h5v1h-5zM377 388h2v2h-2zM412 378h1v13h-1zM440 383h1v8h-1zM354 389h7v3h-7zM355 392h5v1h-5zM411 391h2v2h-2zM440 391h2v2h-2zM356 393h3v1h-3zM378 390h1v7h-1zM526 397h3v1h-3zM378 397h2v2h-2zM525 398h5v1h-5zM441 393h1v7h-1zM441 400h2v2h-2zM524 399h7v3h-7zM525 402h5v1h-5zM526 403h3v1h-3zM379 399h1v6h-1zM528 404h1v1h-1zM379 405h2v2h-2zM411 393h1v14h-1zM528 405h2v2h-2zM526 404h1v4h-1zM410 407h2v2h-2zM442 402h1v7h-1zM529 407h1v2h-1zM525 408h2v2h-2zM442 409h2v2h-2zM529 409h2v2h-2zM380 407h1v6h-1zM525 410h1v3h-1zM530 411h1v2h-1zM380 413h2v2h-2zM524 413h2v2h-2zM530 413h2v2h-2zM531 415h1v2h-1zM443 411h1v7h-1zM524 415h1v4h-1zM531 417h2v2h-2zM443 418h2v2h-2zM532 419h1v1h-1zM523 419h2v2h-2zM381 415h1v7h-1zM532 420h2v2h-2zM410 409h1v14h-1zM381 422h2v2h-2zM523 421h1v3h-1zM533 422h1v2h-1zM382 424h1v1h-1zM409 423h2v2h-2zM444 420h1v5h-1zM522 424h2v1h-2zM533 424h2v1h-2zM382 428h1v2h-1zM444 428h2v2h-2zM522 428h1v2h-1zM534 428h2v2h-2zM382 430h2v2h-2zM521 430h2v2h-2zM535 430h1v2h-1zM535 432h2v2h-2zM521 432h1v3h-1zM495 435h3v1h-3zM536 434h1v2h-1zM445 430h1v7h-1zM494 436h5v1h-5zM520 435h2v2h-2zM536 436h2v2h-2zM383 432h1v7h-1zM409 428h1v11h-1zM445 437h2v2h-2zM537 438h1v1h-1zM493 437h7v3h-7zM383 439h2v2h-2zM408 439h2v2h-2zM494 440h5v1h-5zM520 437h1v4h-1zM537 439h2v2h-2zM495 441h3v1h-3zM519 441h2v2h-2zM538 441h1v2h-1zM497 442h2v2h-2zM495 442h1v3h-1zM498 444h1v1h-1zM538 443h2v2h-2zM446 439h1v7h-1zM618 445h3v1h-3zM384 441h1v6h-1zM494 445h2v2h-2zM498 445h2v2h-2zM519 443h1v4h-1zM539 445h1v2h-1zM557 446h3v1h-3zM617 446h5v1h-5zM446 446h2v2h-2zM556 447h5v1h-5zM384 447h2v2h-2zM499 447h2v2h-2zM518 447h2v2h-2zM539 447h2v2h-2zM494 447h1v3h-1zM500 449h1v1h-1zM555 448h7v2h-7zM616 447h7v3h-7zM540 449h1v2h-1zM553 450h9v1h-9zM617 450h5v1h-5zM493 450h2v2h-2zM500 450h2v2h-2zM518 449h1v3h-1zM551 451h11v1h-11zM618 451h3v1h-3zM501 452h1v1h-1zM540 451h2v2h-2zM549 452h6v1h-6zM557 452h6v1h-6zM408 441h1v13h-1zM517 452h2v2h-2zM541 453h1v1h-1zM547 453h6v1h-6zM561 453h2v1h-2zM618 452h1v2h-1zM385 449h1v6h-1zM447 448h1v7h-1zM493 452h1v3h-1zM501 453h2v2h-2zM541 454h3v1h-3zM545 454h6v1h-6zM562 454h2v1h-2zM407 454h2v2h-2zM502 455h1v1h-1zM540 455h9v1h-9zM562 455h3v1h-3zM617 454h2v2h-2zM385 455h2v2h-2zM447 455h2v2h-2zM492 455h2v2h-2zM539 456h8v1h-8zM563 456h3v1h-3zM502 456h2v2h-2zM517 454h1v4h-1zM564 457h3v1h-3zM617 456h1v2h-1zM503 458h1v1h-1zM539 457h7v2h-7zM565 458h3v1h-3zM516 458h2v2h-2zM540 459h5v1h-5zM566 459h3v1h-3zM616 458h2v2h-2zM492 457h1v4h-1zM503 459h2v2h-2zM541 460h3v1h-3zM567 460h3v1h-3zM568 461h2v1h-2zM616 460h1v2h-1zM491 461h2v2h-2zM504 461h2v2h-2zM516 460h1v3h-1zM569 462h2v1h-2zM386 457h1v7h-1zM505 463h1v1h-1zM569 463h6v1h-6zM615 462h2v2h-2zM448 457h1v8h-1zM515 463h2v2h-2zM570 464h6v1h-6zM386 464h2v2h-2zM491 463h1v3h-1zM505 464h2v2h-2zM615 464h1v2h-1zM448 465h2v2h-2zM506 466h1v1h-1zM490 466h2v2h-2zM570 465h7v3h-7zM614 466h2v2h-2zM506 467h2v2h-2zM515 465h1v4h-1zM571 468h5v1h-5zM407 456h1v14h-1zM507 469h1v1h-1zM572 469h4v1h-4zM614 468h1v2h-1zM490 468h1v3h-1zM514 469h2v2h-2zM574 470h2v1h-2zM387 466h1v6h-1zM406 470h2v2h-2zM464 471h3v1h-3zM507 470h2v2h-2zM575 471h1v1h-1zM613 470h2v2h-2zM463 472h5v1h-5zM489 471h2v2h-2zM508 472h1v1h-1zM635 472h76v1h-76zM387 472h2v2h-2zM449 467h1v7h-1zM462 473h7v1h-7zM514 471h1v3h-1zM575 472h2v2h-2zM613 472h1v2h-1zM635 473h75v1h-75zM387 474h3v1h-3zM461 474h8v1h-8zM508 473h2v2h-2zM635 474h74v1h-74zM712 472h217v3h-217zM386 475h5v1h-5zM449 474h2v2h-2zM458 475h11v1h-11zM489 473h1v3h-1zM513 474h2v2h-2zM576 474h2v2h-2zM612 474h2v2h-2zM449 476h3v1h-3zM455 476h13v1h-13zM509 475h2v2h-2zM448 477h13v1h-13zM464 477h4v1h-4zM488 476h2v2h-2zM510 477h1v1h-1zM577 476h2v2h-2zM612 476h1v2h-1zM385 476h7v3h-7zM447 478h11v1h-11zM466 478h2v1h-2zM578 478h1v1h-1zM386 479h5v1h-5zM447 479h8v1h-8zM467 479h1v1h-1zM510 478h2v2h-2zM513 476h1v4h-1zM611 478h2v2h-2zM387 480h4v1h-4zM447 480h7v1h-7zM488 478h1v3h-1zM511 480h3v1h-3zM578 479h2v2h-2zM389 481h2v1h-2zM448 481h5v1h-5zM467 480h2v2h-2zM510 481h5v1h-5zM449 482h3v1h-3zM487 481h2v2h-2zM579 481h2v2h-2zM611 480h1v3h-1zM390 482h2v2h-2zM468 482h2v2h-2zM580 483h1v1h-1zM469 484h1v1h-1zM509 482h7v3h-7zM610 483h2v2h-2zM391 484h2v2h-2zM406 472h1v14h-1zM487 483h1v3h-1zM510 485h5v1h-5zM580 484h2v2h-2zM469 485h2v2h-2zM511 486h3v1h-3zM610 485h1v2h-1zM392 486h2v2h-2zM405 486h2v2h-2zM470 487h1v1h-1zM486 486h2v2h-2zM581 486h2v2h-2zM582 488h1v1h-1zM609 487h2v2h-2zM393 488h2v2h-2zM470 488h2v2h-2zM486 488h1v3h-1zM582 489h2v2h-2zM609 489h1v2h-1zM394 490h2v2h-2zM471 490h2v2h-2zM472 492h1v1h-1zM485 491h2v2h-2zM583 491h2v2h-2zM608 491h2v2h-2zM395 492h2v2h-2zM584 493h1v1h-1zM472 493h2v2h-2zM608 493h1v2h-1zM396 494h2v2h-2zM584 494h2v2h-2zM473 495h2v2h-2zM485 493h1v4h-1zM607 495h2v2h-2zM397 496h2v2h-2zM474 497h1v1h-1zM585 496h2v2h-2zM484 497h2v2h-2zM607 497h1v2h-1zM398 498h2v2h-2zM474 498h2v2h-2zM586 498h2v2h-2zM587 500h1v1h-1zM606 499h2v2h-2zM399 500h2v2h-2zM405 488h1v14h-1zM475 500h2v2h-2zM484 499h1v3h-1zM587 501h2v1h-2zM476 502h1v1h-1zM587 502h4v1h-4zM606 501h1v2h-1zM400 502h2v2h-2zM404 502h2v2h-2zM483 502h2v2h-2zM587 503h5v1h-5zM476 503h2v2h-2zM586 504h7v1h-7zM605 503h2v2h-2zM401 504h2v2h-2zM404 504h1v2h-1zM477 505h1v1h-1zM586 505h8v1h-8zM402 506h3v1h-3zM483 504h1v3h-1zM586 506h11v1h-11zM605 505h1v2h-1zM402 507h4v1h-4zM477 506h2v2h-2zM587 507h13v1h-13zM603 507h3v1h-3zM402 508h5v1h-5zM482 507h2v2h-2zM588 508h3v1h-3zM594 508h13v1h-13zM478 508h2v2h-2zM597 509h11v1h-11zM479 510h1v1h-1zM600 510h8v1h-8zM401 509h7v3h-7zM479 511h2v1h-2zM482 509h1v3h-1zM601 511h7v1h-7zM402 512h5v1h-5zM479 512h4v1h-4zM602 512h5v1h-5zM403 513h3v1h-3zM479 513h5v1h-5zM603 513h3v1h-3zM478 514h7v3h-7zM479 517h5v1h-5zM480 518h3v1h-3z"/>
</g>
<g>
<text transform="translate(512.5 43.8) scale(1 1.04)" font-size="30.05" text-anchor="middle" stroke="#000" stroke-width="0.4">Chronos du 01 mai 2023</text>
<text transform="translate(511.8 741.8) scale(1 1.08)" font-size="20" text-anchor="middle" stroke="#000" stroke-width="0.25">JR pas de Dallas - JOSE ROSAS - Pro10</text>
<text transform="translate(46.6 72) scale(1 1.14)" font-size="14.05" text-anchor="end">19.0s</text>
<text transform="translate(980.2 72) scale(1 1.14)" font-size="14.05" text-anchor="start">19.0s</text>
<text transform="translate(46.6 102) scale(1 1.14)" font-size="14.05" text-anchor="end">18.8s</text>
<text transform="translate(980.2 102) scale(1 1.14)" font-size="14.05" text-anchor="start">18.8s</text>
<text transform="translate(46.6 132) scale(1 1.14)" font-size="14.05" text-anchor="end">18.6s</text>
<text transform="translate(980.2 132) scale(1 1.14)" font-size="14.05" text-anchor="start">18.6s</text>
<text transform="translate(46.6 162) scale(1 1.14)" font-size="14.05" text-anchor="end">18.4s</text>
<text transform="translate(980.2 162) scale(1 1.14)" font-size="14.05" text-anchor="start">18.4s</text>
<text transform="translate(46.6 192) scale(1 1.14)" font-size="14.05" text-anchor="end">18.2s</text>
<text transform="translate(980.2 192) scale(1 1.14)" font-size="14.05" text-anchor="start">18.2s</text>
<text transform="translate(46.6 222) scale(1 1.14)" font-size="14.05" text-anchor="end">18.0s</text>
<text transform="translate(980.2 222) scale(1 1.14)" font-size="14.05" text-anchor="start">18.0s</text>
<text transform="translate(46.6 252) scale(1 1.14)" font-size="14.05" text-anchor="end">17.8s</text>
<text transform="translate(980.2 252) scale(1 1.14)" font-size="14.05" text-anchor="start">17.8s</text>
<text transform="translate(46.6 282) scale(1 1.14)" font-size="14.05" text-anchor="end">17.6s</text>
<text transform="translate(980.2 282) scale(1 1.14)" font-size="14.05" text-anchor="start">17.6s</text>
<text transform="translate(46.6 312) scale(1 1.14)" font-size="14.05" text-anchor="end">17.4s</text>
<text transform="translate(980.2 312) scale(1 1.14)" font-size="14.05" text-anchor="start">17.4s</text>
<text transform="translate(46.6 342) scale(1 1.14)" font-size="14.05" text-anchor="end">17.2s</text>
<text transform="translate(980.2 342) scale(1 1.14)" font-size="14.05" text-anchor="start">17.2s</text>
<text transform="translate(46.6 372) scale(1 1.14)" font-size="14.05" text-anchor="end">17.0s</text>
<text transform="translate(980.2 372) scale(1 1.14)" font-size="14.05" text-anchor="start">17.0s</text>
<text transform="translate(46.6 402) scale(1 1.14)" font-size="14.05" text-anchor="end">16.8s</text>
<text transform="translate(980.2 402) scale(1 1.14)" font-size="14.05" text-anchor="start">16.8s</text>
<text transform="translate(46.6 432) scale(1 1.14)" font-size="14.05" text-anchor="end">16.6s</text>
<text transform="translate(980.2 432) scale(1 1.14)" font-size="14.05" text-anchor="start">16.6s</text>
<text transform="translate(46.6 462) scale(1 1.14)" font-size="14.05" text-anchor="end">16.4s</text>
<text transform="translate(980.2 462) scale(1 1.14)" font-size="14.05" text-anchor="start">16.4s</text>
<text transform="translate(46.6 492) scale(1 1.14)" font-size="14.05" text-anchor="end">16.2s</text>
<text transform="translate(980.2 492) scale(1 1.14)" font-size="14.05" text-anchor="start">16.2s</text>
<text transform="translate(46.6 522) scale(1 1.14)" font-size="14.05" text-anchor="end">16.0s</text>
<text transform="translate(980.2 522) scale(1 1.14)" font-size="14.05" text-anchor="start">16.0s</text>
<text transform="translate(46.6 552) scale(1 1.14)" font-size="14.05" text-anchor="end">15.8s</text>
<text transform="translate(980.2 552) scale(1 1.14)" font-size="14.05" text-anchor="start">15.8s</text>
<text transform="translate(46.6 582) scale(1 1.14)" font-size="14.05" text-anchor="end">15.6s</text>
<text transform="translate(980.2 582) scale(1 1.14)" font-size="14.05" text-anchor="start">15.6s</text>
<text transform="translate(46.6 612) scale(1 1.14)" font-size="14.05" text-anchor="end">15.4s</text>
<text transform="translate(980.2 612) scale(1 1.14)" font-size="14.05" text-anchor="start">15.4s</text>
<text transform="translate(46.6 642) scale(1 1.14)" font-size="14.05" text-anchor="end">15.2s</text>
<text transform="translate(980.2 642) scale(1 1.14)" font-size="14.05" text-anchor="start">15.2s</text>
<text transform="translate(46.6 672) scale(1 1.14)" font-size="14.05" text-anchor="end">15.0s</text>
<text transform="translate(980.2 672) scale(1 1.14)" font-size="14.05" text-anchor="start">15.0s</text>
<text transform="translate(49.5 689) scale(1 1.14)" font-size="14.05" text-anchor="middle">0tr</text>
<text transform="translate(126.6 689) scale(1 1.14)" font-size="14.05" text-anchor="middle">5tr</text>
<text transform="translate(203.7 689) scale(1 1.14)" font-size="14.05" text-anchor="middle">10tr</text>
<text transform="translate(280.8 689) scale(1 1.14)" font-size="14.05" text-anchor="middle">15tr</text>
<text transform="translate(357.8 689) scale(1 1.14)" font-size="14.05" text-anchor="middle">20tr</text>
<text transform="translate(434.9 689) scale(1 1.14)" font-size="14.05" text-anchor="middle">25tr</text>
<text transform="translate(512.0 689) scale(1 1.14)" font-size="14.05" text-anchor="middle">30tr</text>
<text transform="translate(589.1 689) scale(1 1.14)" font-size="14.05" text-anchor="middle">35tr</text>
<text transform="translate(666.2 689) scale(1 1.14)" font-size="14.05" text-anchor="middle">40tr</text>
<text transform="translate(743.2 689) scale(1 1.14)" font-size="14.05" text-anchor="middle">45tr</text>
<text transform="translate(820.3 689) scale(1 1.14)" font-size="14.05" text-anchor="middle">50tr</text>
<text transform="translate(897.4 689) scale(1 1.14)" font-size="14.05" text-anchor="middle">55tr</text>
<text transform="translate(974.5 689) scale(1 1.14)" font-size="14.05" text-anchor="middle">60tr</text>
</g>
</svg>
</body></html>
